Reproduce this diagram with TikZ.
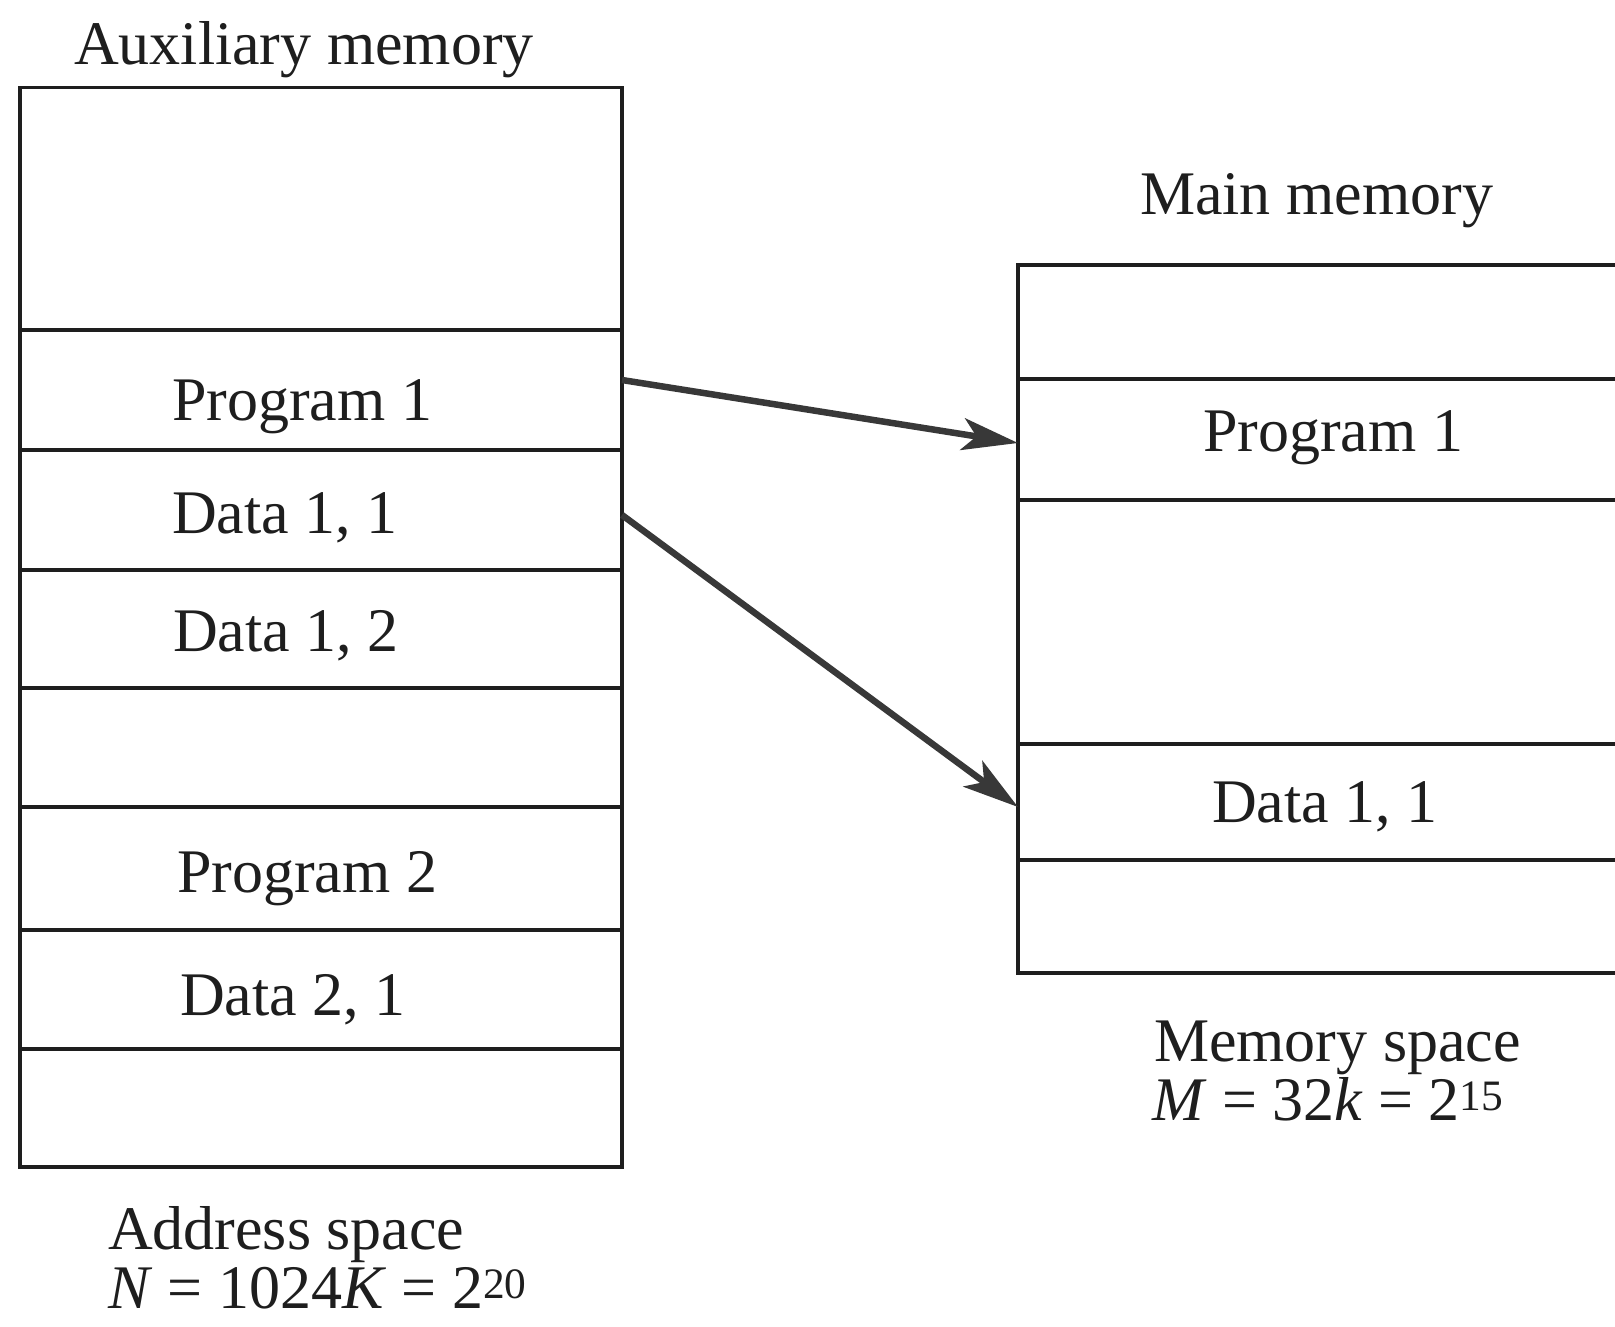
\documentclass[tikz,border=0pt]{standalone}
\usepackage{fontspec}
\setmainfont{Liberation Serif}
\usetikzlibrary{arrows.meta}
\definecolor{ink}{HTML}{1E1E1E}
\definecolor{arrowink}{HTML}{383838}
\begin{document}
\begin{tikzpicture}[x=1pt,y=-1pt,
  cell/.style={draw=ink, line width=3.4pt, rectangle, inner sep=0pt, outer sep=0pt},
  auxcell/.style={cell, minimum width=602pt, minimum height=#1},
  maincell/.style={cell, minimum width=632pt, minimum height=#1},
  lbl/.style={anchor=base west, inner sep=0pt, outer sep=0pt, text=ink, font=\fontsize{62}{70}\selectfont},
  maparrow/.style={draw=arrowink, line width=6.5pt, -{Stealth[length=56pt,width=32pt,inset=14pt]}}
]
\useasboundingbox[fill=white] (0,0) rectangle (1615,1326);

% Auxiliary memory cells
\node[auxcell=242.5pt] (auxTop) at (321,208.75) {};
\node[auxcell=120pt] (auxP1) at (321,390) {};
\node[auxcell=120pt] (auxD11) at (321,510) {};
\node[auxcell=118pt] (auxD12) at (321,629) {};
\node[auxcell=119pt] (auxE1) at (321,747.5) {};
\node[auxcell=123pt] (auxP2) at (321,868.5) {};
\node[auxcell=119pt] (auxD21) at (321,989.5) {};
\node[auxcell=118pt] (auxE2) at (321,1108) {};

% Main memory cells
\node[maincell=114pt] (mainTop) at (1334,322) {};
\node[maincell=121pt] (mainP1) at (1334,439.5) {};
\node[maincell=244pt] (mainE1) at (1334,622) {};
\node[maincell=116pt] (mainD11) at (1334,802) {};
\node[maincell=113pt] (mainE2) at (1334,916.5) {};

% Titles and labels
\node[lbl] (auxTitle) at (74,64) {Auxiliary memory};
\node[lbl] (mainTitle) at (1140,214) {Main memory};

\node[lbl] (tP1) at (172,420) {Program 1};
\node[lbl] (tD11) at (172,533) {Data 1, 1};
\node[lbl] (tD12) at (173,651) {Data 1, 2};
\node[lbl] (tP2) at (177,892) {Program 2};
\node[lbl] (tD21) at (180,1015) {Data 2, 1};

\node[lbl] (tmP1) at (1203,451) {Program 1};
\node[lbl] (tmD11) at (1212,822) {Data 1, 1};

\node[lbl] (addr1) at (108,1249) {Address space};
\node[lbl] (addr2) at (108,1308) {\textit{N} = 1024\textit{K} = 2\textsuperscript{20}};
\node[lbl] (mem1) at (1154,1061) {Memory space};
\node[lbl] (mem2) at (1152,1120) {\textit{M} = 32\textit{k} = 2\textsuperscript{15}};

% Mapping arrows
\draw[maparrow] ([yshift=10pt]auxP1.east) -- ([yshift=-3.5pt]mainP1.west);
\draw[maparrow] ([yshift=-5pt]auxD11.east) -- ([yshift=-5pt]mainD11.west);
\end{tikzpicture}
\end{document}
